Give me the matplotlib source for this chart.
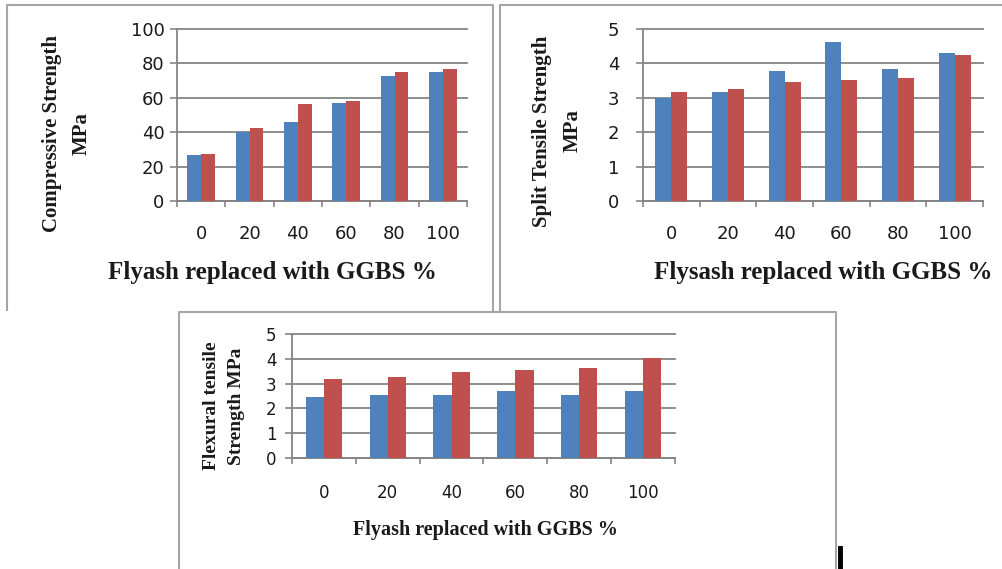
import numpy as np
import matplotlib
matplotlib.use('Agg')
import matplotlib.pyplot as plt
from matplotlib.lines import Line2D

W, H = 1003, 569

# GGBS replacement levels (categories)
ggbs = ['0', '20', '40', '60', '80', '100']

# compressive strength, MPa
comp_blue = [26.8, 40.3, 46.1, 57.2, 72.5, 74.8]
comp_red = [27.1, 42.6, 56.2, 58.1, 74.8, 76.9]

# split tensile strength, MPa
split_blue = [3.00, 3.18, 3.79, 4.63, 3.85, 4.29]
split_red = [3.18, 3.25, 3.46, 3.52, 3.58, 4.24]

# flexural tensile strength, MPa
flex_blue = [2.46, 2.54, 2.54, 2.70, 2.54, 2.70]
flex_red = [3.17, 3.25, 3.48, 3.56, 3.63, 4.02]

BLUE = '#4F81BD'
RED = '#C0504D'
GRID = '#858585'
BOX = '#a6a6a6'
TXT = '#1a1a1a'
SERIF = 'Liberation Serif'

fig = plt.figure(figsize=(W / 100, H / 100), dpi=100)
fig.patch.set_facecolor('white')


def px_axes(l, t, r, b):
    return fig.add_axes([l / W, 1 - b / H, (r - l) / W, (b - t) / H])


def fig_line(xs, ys, **kw):
    fig.add_artist(Line2D([x / W for x in xs], [1 - y / H for y in ys],
                          transform=fig.transFigure, **kw))


def fig_label(x, y, s, size, rot=0):
    fig.text(x / W, 1 - y / H, s, rotation=rot, ha='center', va='center',
             family=SERIF, weight='bold', fontsize=size, color=TXT)


def bar_panel(ax, blue, red, ymax, ystep, fs, xpad, ypad):
    x = np.arange(len(ggbs))
    w = 0.285
    ax.bar(x - w / 2, blue, w, color=BLUE, zorder=3)
    ax.bar(x + w / 2, red, w, color=RED, zorder=3)
    ax.set_xlim(-0.5, len(ggbs) - 0.5)
    ax.set_ylim(0, ymax)
    ax.set_yticks(np.arange(0, ymax + ystep / 2, ystep))
    # tick marks between groups, labels at group centres
    ax.set_xticks(np.arange(-0.5, len(ggbs), 1))
    ax.set_xticklabels([])
    ax.set_xticks(x, minor=True)
    ax.set_xticklabels(ggbs, minor=True)
    ax.tick_params(axis='x', which='major', length=4.5, width=1.2, color=GRID, direction='out')
    ax.tick_params(axis='x', which='minor', length=0, pad=xpad, labelsize=fs, labelcolor=TXT)
    ax.tick_params(axis='y', length=5, width=1.2, color=GRID, pad=ypad, labelsize=fs, labelcolor=TXT)
    ax.yaxis.grid(True, color=GRID, lw=1.3)
    ax.set_axisbelow(True)
    for gl in ax.get_ygridlines():
        gl.set_clip_on(False)
    for side in ['top', 'right']:
        ax.spines[side].set_visible(False)
    for side in ['left', 'bottom']:
        ax.spines[side].set_color(GRID)
        ax.spines[side].set_linewidth(1.3)
    ax.set_facecolor('none')


# frames around the three charts
fig_line([7, 7, 493, 493], [310, 5, 5, 312], color=BOX, lw=1.5)
fig_line([500, 500, 1003], [312, 5, 5], color=BOX, lw=1.5)
fig_line([179, 179, 836, 836], [569, 312, 312, 569], color=BOX, lw=1.5)
fig_line([840, 840], [548, 569], color='black', lw=3.5)

ax1 = px_axes(177, 29, 467, 201)
bar_panel(ax1, comp_blue, comp_red, 100, 20, 13, 17, 4)
fig_label(52, 133, 'Compressive Strength', 15, 90)
fig_label(82, 134, 'MPa', 15, 90)
fig_label(272, 273, 'Flyash replaced with GGBS %', 18)

ax2 = px_axes(643, 29, 983, 201)
bar_panel(ax2, split_blue, split_red, 5, 1, 13, 17, 12)
fig_label(542, 131, 'Split Tensile Strength', 15, 90)
fig_label(573, 131, 'MPa', 15, 90)
fig_label(823, 273, 'Flysash replaced with GGBS %', 18)

ax3 = px_axes(292, 334, 675, 458)
bar_panel(ax3, flex_blue, flex_red, 5, 1, 12, 19, 6)
fig_label(212, 406, 'Flexural tensile', 14, 90)
fig_label(237, 406, 'Strength MPa', 14, 90)
fig_label(485, 530, 'Flyash replaced with GGBS %', 14.5)

fig.savefig('out.png', dpi=100, facecolor='white')
